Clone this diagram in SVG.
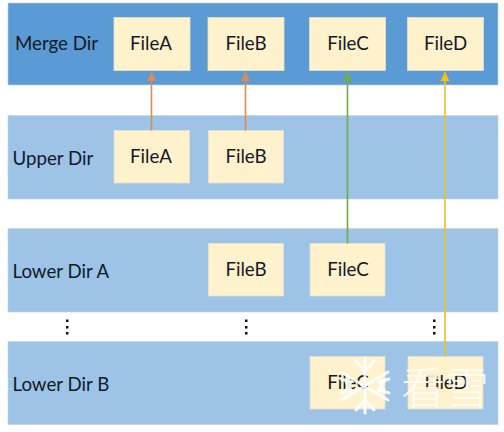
<svg xmlns="http://www.w3.org/2000/svg" width="504" height="432" viewBox="0 0 504 432">
<defs>
<marker id="aO" markerUnits="userSpaceOnUse" markerWidth="10" markerHeight="10" refX="5" refY="0" viewBox="0 0 10 10" orient="0"><path d="M5 0L9.500 9H.5Z" fill="#e08a4e"/></marker>
<marker id="aG" markerUnits="userSpaceOnUse" markerWidth="10" markerHeight="10" refX="5" refY="0" viewBox="0 0 10 10" orient="0"><path d="M5 0L9.500 9H.5Z" fill="#70ad47"/></marker>
<marker id="aY" markerUnits="userSpaceOnUse" markerWidth="10" markerHeight="10" refX="5" refY="0" viewBox="0 0 10 10" orient="0"><path d="M5 0L9.500 9H.5Z" fill="#ffc000"/></marker>
</defs>
<style>
text{font-family:"Lato","Liberation Sans",sans-serif;font-size:18.7px;fill:#111a26}
.f{text-anchor:middle}
.band{fill:#9dc3e6;stroke:#c3d3e0;stroke-width:.6}
.merge{fill:#5b9bd5}
.box{fill:#fff2cc;stroke:#e6e0cc;stroke-width:.8}
.c{fill:none;stroke-width:1.6}
.wm{stroke:#fff;stroke-width:3;fill:none;stroke-linecap:round;opacity:.9}
</style>
<rect width="504" height="432" fill="#fff"/>
<g id="merge-dir"><rect class="band merge" x="8" y="3" width="490" height="82"/><text x="15" y="50">Merge Dir</text>
<g id="merge-filea"><rect class="box" x="114" y="17.500" width="76" height="53"/><text class="f" x="151" y="50">FileA</text></g>
<g id="merge-fileb"><rect class="box" x="208" y="17.500" width="76" height="53"/><text class="f" x="246" y="50">FileB</text></g>
<g id="merge-filec"><rect class="box" x="309.500" y="17.500" width="76" height="53"/><text class="f" x="348" y="50">FileC</text></g>
<g id="merge-filed"><rect class="box" x="407.500" y="17.500" width="76" height="53"/><text class="f" x="445.500" y="50">FileD</text></g></g>
<g id="upper-dir"><rect class="band" x="8" y="115.500" width="490" height="83.500"/><text x="12.500" y="165">Upper Dir</text>
<g id="upper-filea"><rect class="box" x="114" y="130.500" width="75.500" height="52.500"/><text class="f" x="151" y="163">FileA</text></g>
<g id="upper-fileb"><rect class="box" x="208.500" y="130.500" width="75" height="52.500"/><text class="f" x="246" y="163">FileB</text></g></g>
<g id="lower-dir-a"><rect class="band" x="8" y="228.500" width="490" height="83.500"/><text x="12.500" y="278">Lower Dir A</text>
<g id="lowera-fileb"><rect class="box" x="208.500" y="243.500" width="75" height="52.500"/><text class="f" x="246" y="276">FileB</text></g>
<g id="lowera-filec"><rect class="box" x="310" y="243.500" width="75" height="52.500"/><text class="f" x="348" y="276">FileC</text></g></g>
<g id="lower-dir-b"><rect class="band" x="8" y="341.500" width="490" height="83"/><text x="12.500" y="391">Lower Dir B</text>
<g id="lowerb-filec"><rect class="box" x="310" y="356.500" width="75" height="52.500"/><text class="f" x="348" y="388.500">FileC</text></g>
<g id="lowerb-filed"><rect class="box" x="408" y="356.500" width="75" height="52.500"/><text class="f" x="446" y="388.500">FileD</text></g></g>
<g id="ellipsis" fill="#111">
<rect x="66" y="319.500" width="2.500" height="2.500"/><rect x="66" y="326" width="2.500" height="2.500"/><rect x="66" y="332" width="2.500" height="2.500"/>
<rect x="245" y="319.500" width="2.500" height="2.500"/><rect x="245" y="326" width="2.500" height="2.500"/><rect x="245" y="332" width="2.500" height="2.500"/>
<rect x="433" y="319.500" width="2.500" height="2.500"/><rect x="433" y="326" width="2.500" height="2.500"/><rect x="433" y="332" width="2.500" height="2.500"/>
</g>
<g id="connectors">
<line class="c" x1="151.500" y1="130.500" x2="151.500" y2="72" stroke="#e08a4e" marker-end="url(#aO)"/>
<line class="c" x1="245.500" y1="130.500" x2="245.500" y2="72" stroke="#e08a4e" marker-end="url(#aO)"/>
<line class="c" x1="347.500" y1="243.500" x2="347.500" y2="72" stroke="#70ad47" marker-end="url(#aG)"/>
<line class="c" x1="445" y1="356.500" x2="445" y2="72" stroke="#e8c22a" marker-end="url(#aY)"/>
</g>
<g id="watermark">
<path class="wm" d="M365 358V413M341 372L388 400M341 400L388 372M356 361L365 371L374 361M356 410L365 400L374 410M345 380L351 390L341 393M385 380L379 390L389 393M345 392L351 382L341 379M385 392L379 382L389 379"/>
<text x="401" y="404" style="font-family:'Noto Sans CJK SC',sans-serif;font-size:44px;font-weight:300;fill:#fff;fill-opacity:.9">看雪</text>
</g>
</svg>
